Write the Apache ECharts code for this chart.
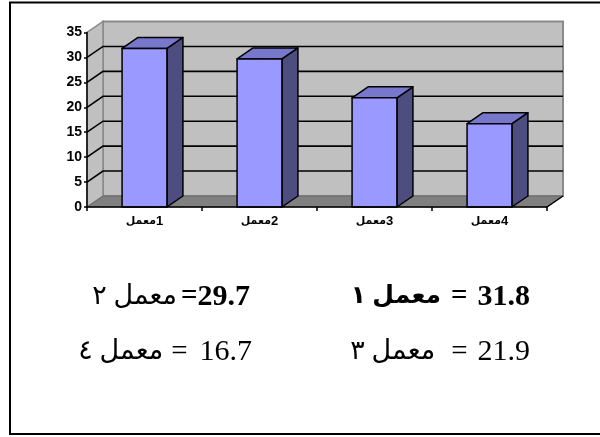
<!DOCTYPE html>
<html><head><meta charset="utf-8">
<script src="https://cdn.jsdelivr.net/npm/echarts@6/dist/echarts.min.js"></script>
<style>html,body{margin:0;padding:0;background:#fff}#c{width:600px;height:437px}</style>
</head><body><div id="c"></div>
<script>
const categories = ['معمل1', 'معمل2', 'معمل3', 'معمل4'];
const values = [31.8, 29.7, 21.9, 16.7];
const yTicks = [0, 5, 10, 15, 20, 25, 30, 35];
const summaryNames = ['معمل ١', 'معمل ٢', 'معمل ٣', 'معمل ٤'];
const summaryValues = ['31.8', '29.7', '21.9', '16.7'];

const DX = 16, DY = -11;
const chart = echarts.init(document.getElementById('c'), null, {renderer: 'canvas'});

function wallsRender(params, api) {
  const cs = params.coordSys;
  const x0 = cs.x, x1 = cs.x + cs.width, yb = cs.y + cs.height, yt = cs.y;
  const ch = [];
  ch.push({type: 'polygon', shape: {points: [[x0 + DX, yt + DY], [x1 + DX, yt + DY], [x1 + DX, yb + DY], [x0 + DX, yb + DY]]},
    style: {fill: '#c0c0c0', stroke: '#8a8a8a', lineWidth: 2}});
  ch.push({type: 'polygon', shape: {points: [[x0, yb], [x0, yt], [x0 + DX, yt + DY], [x0 + DX, yb + DY]]},
    style: {fill: '#c0c0c0', stroke: '#8a8a8a', lineWidth: 1.5}});
  ch.push({type: 'polygon', shape: {points: [[x0, yb], [x1, yb], [x1 + DX, yb + DY], [x0 + DX, yb + DY]]},
    style: {fill: '#808080', stroke: '#6a6a6a', lineWidth: 1}});
  yTicks.forEach(function (t) {
    if (t <= 0 || t >= yTicks[yTicks.length - 1]) return;
    const y = api.coord([0, t])[1];
    ch.push({type: 'polyline', shape: {points: [[x0, y], [x0 + DX, y + DY], [x1 + DX, y + DY]]},
      style: {stroke: '#000', lineWidth: 1.6, fill: null}});
  });
  ch.push({type: 'line', shape: {x1: x1, y1: yb, x2: x1 + DX, y2: yb + DY}, style: {stroke: '#000', lineWidth: 1.5}});
  return {type: 'group', children: ch};
}

function barRender(params, api) {
  const xc = api.coord([api.value(0), 0])[0];
  const y0 = api.coord([api.value(0), 0])[1];
  const yv = api.coord([api.value(0), api.value(1)])[1];
  const bw = api.size([1, 0])[0] * 0.39;
  const xl = xc - bw / 2, xr = xc + bw / 2;
  const st = {stroke: '#000', lineWidth: 1.5, lineJoin: 'round'};
  return {type: 'group', children: [
    {type: 'polygon', shape: {points: [[xr, y0], [xr, yv], [xr + DX, yv + DY], [xr + DX, y0 + DY]]},
      style: Object.assign({fill: '#4d4d80'}, st)},
    {type: 'polygon', shape: {points: [[xl, yv], [xr, yv], [xr + DX, yv + DY], [xl + DX, yv + DY]]},
      style: Object.assign({fill: '#7777cc'}, st)},
    {type: 'rect', shape: {x: xl, y: yv, width: bw, height: y0 - yv},
      style: Object.assign({fill: '#9999ff'}, st)}
  ]};
}

const serifFont = '"Liberation Serif","Times New Roman","DejaVu Sans",serif';
// gaps: [name->'=', '='->value]
function summaryText(i, right, y, boldName, boldVal, gaps) {
  return {
    type: 'text', x: right, y: y, z: 20,
    style: {
      text: '{n|' + summaryNames[i] + '}{e|=}{v|' + summaryValues[i] + '}',
      align: 'right', verticalAlign: 'middle',
      rich: {
        n: {fontFamily: serifFont, fontSize: boldName ? 25 : 27, fontWeight: boldName ? 'bold' : 'normal', fill: '#000'},
        e: {fontFamily: serifFont, fontSize: 29, fontWeight: boldVal ? 'bold' : 'normal', fill: '#000', padding: [0, gaps[1], 0, gaps[0]]},
        v: {fontFamily: serifFont, fontSize: 30, fontWeight: boldVal ? 'bold' : 'normal', fill: '#000'}
      }
    }
  };
}

chart.setOption({
  animation: false,
  backgroundColor: '#fff',
  grid: {left: 87, right: 53, top: 32.5, bottom: 230},
  xAxis: {
    type: 'category', data: categories, z: 10,
    axisLine: {lineStyle: {color: '#000', width: 1.5}},
    axisTick: {show: true, length: 4, lineStyle: {color: '#000', width: 1.5}},
    axisLabel: {margin: 8,
      formatter: function (v) {
        const m = v.match(/^(.*?)(\d+)$/);
        return '{w|' + m[1] + '}{d|' + m[2] + '}';
      },
      rich: {
        d: {color: '#000', fontWeight: 'bold', fontSize: 13, fontFamily: 'Arial, "Liberation Sans", sans-serif'},
        w: {color: '#000', fontWeight: 'bold', fontSize: 11, fontFamily: '"DejaVu Sans", sans-serif'}
      }
    }
  },
  yAxis: {
    type: 'value', min: 0, max: 35, interval: 5, z: 10,
    axisLine: {show: true, lineStyle: {color: '#000', width: 1.5}},
    axisTick: {show: true, length: 3, lineStyle: {color: '#000', width: 1.5}},
    splitLine: {show: false},
    axisLabel: {color: '#000', fontWeight: 'bold', fontSize: 14, fontFamily: 'Arial, "Liberation Sans", sans-serif', margin: 5}
  },
  series: [
    {type: 'custom', z: 1, silent: true, data: [[0, 0]], renderItem: wallsRender},
    {type: 'custom', z: 3, silent: true, data: values.map(function (v, i) { return [i, v]; }), renderItem: barRender}
  ],
  graphic: [
    {type: 'rect', shape: {x: 10, y: 2.5, width: 600, height: 431.5}, style: {fill: null, stroke: '#000', lineWidth: 2}, z: 0},
    summaryText(1, 250, 297, false, true, [4, 0]),
    summaryText(0, 530, 297, true, true, [10, 10]),
    summaryText(3, 252, 352, false, false, [8, 12]),
    summaryText(2, 530, 352, false, false, [16, 10])
  ]
});
</script>
</body></html>
